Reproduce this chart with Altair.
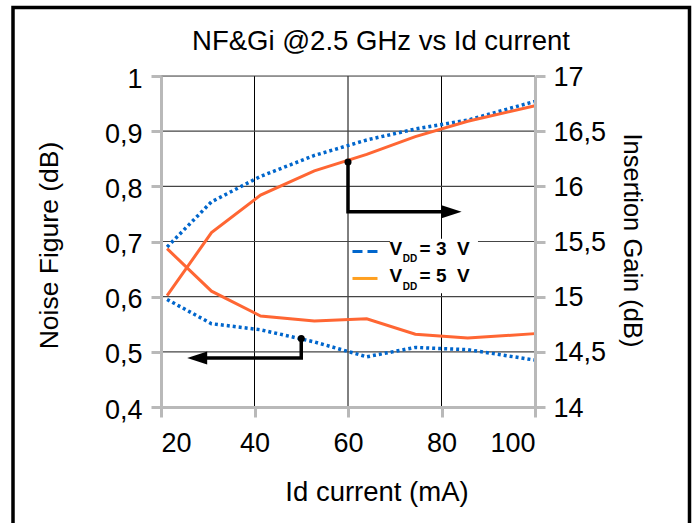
import altair as alt
import pandas as pd

# ---------------- data ----------------
current_ma = [21.3, 30.8, 41.3, 52.8, 64.0, 74.4, 85.6, 100.0]
nf_vdd3 = [0.595, 0.551, 0.540, 0.518, 0.491, 0.508, 0.504, 0.485]
nf_vdd5 = [0.687, 0.610, 0.565, 0.556, 0.560, 0.532, 0.525, 0.533]
gain_vdd3 = [15.45, 15.86, 16.09, 16.28, 16.42, 16.52, 16.60, 16.77]
gain_vdd5 = [15.01, 15.58, 15.92, 16.14, 16.29, 16.45, 16.59, 16.73]

x_ticks = [20, 40, 60, 80, 100]
nf_ticks = [0.4, 0.5, 0.6, 0.7, 0.8, 0.9, 1.0]
gain_ticks = [14, 14.5, 15, 15.5, 16, 16.5, 17]

legend_labels = ["= 3\u00a0\u00a0V", "= 5\u00a0\u00a0V"]

# annotation arrows (data coordinates)
arrow_nf_x = [50.0, 50.0, 27.7]
arrow_nf_y = [0.524, 0.489, 0.489]
arrow_nf_tip = [25.6]
arrow_gain_x = [60.0, 60.0, 82.2]
arrow_gain_y = [16.22, 15.77, 15.77]
arrow_gain_tip = [84.3]

# legend placement (data coordinates, NF scale)
leg_box_x = [69.0, 87.8]
leg_box_y = [0.705, 0.606]
leg_swatch_x = [60.96, 66.31]
leg_row_y = [0.682, 0.633]
leg_text_base = [0.6755, 0.627]
leg_sub_base = [0.6623, 0.612]
leg_v_x = 68.9
leg_sub_x = 71.7
leg_eq_x = 75.3

# ---------------- styling ----------------
FONT = "Liberation Sans"
GRAY = "#b9b9b9"
BLUE = "#0066cc"
ORANGE = "#ff6633"
LEG_ORANGE = "#ffa020"
W, H = 374, 331

common_axis = dict(
    domainColor=GRAY, domainWidth=3, tickColor=GRAY, tickWidth=3, tickSize=10,
    labelFont=FONT, labelFontSize=27, labelColor="black",
    titleFont=FONT, titleFontWeight="normal", titleColor="black",
    grid=False, zindex=1,
)

x_axis = alt.Axis(values=x_ticks, title="Id current (mA)", labelPadding=13,
                  titleX=215.5, titleY=93, titleAlign="center", titleBaseline="alphabetic",
                  titleAngle=0, titleFontSize=27.5, **common_axis)
yl_axis = alt.Axis(values=nf_ticks, title="Noise Figure (dB)", labelPadding=9, labelOffset=3,
                   labelExpr="replace(format(datum.value, '~g'), '.', ',')",
                   titleX=-104, titleY=169, titleAngle=270, titleAlign="center",
                   titleBaseline="alphabetic", titleFontSize=26.5, orient="left", **common_axis)
yr_axis = alt.Axis(values=gain_ticks, title="Insertion Gain (dB)", labelPadding=8, labelOffset=1,
                   labelExpr="replace(format(datum.value, '~g'), '.', ',')",
                   titleX=88, titleY=164, titleAngle=90, titleAlign="center",
                   titleBaseline="alphabetic", titleFontSize=25.5, orient="right", **common_axis)

x_scale = alt.Scale(domain=[20, 100], nice=False, zero=False)
yl_scale = alt.Scale(domain=[0.4, 1.0], nice=False, zero=False)
yr_scale = alt.Scale(domain=[14, 17], nice=False, zero=False)


def X(f):
    return alt.X(f, type="quantitative", scale=x_scale, axis=x_axis)


def YL(f):
    return alt.Y(f, type="quantitative", scale=yl_scale, axis=yl_axis)


def YR(f):
    return alt.Y(f, type="quantitative", scale=yr_scale, axis=yr_axis)


series = pd.DataFrame({"x": current_ma, "nf3": nf_vdd3, "nf5": nf_vdd5,
                       "g3": gain_vdd3, "g5": gain_vdd5})

# ---------------- left (NF) layers ----------------
frame = alt.Chart(pd.DataFrame({"a": [0]})).mark_rect(
    fill="transparent", stroke="black", strokeWidth=3.5
).encode(x=alt.value(-148), x2=alt.value(528.5), y=alt.value(-68.5), y2=alt.value(480))

vgrid = alt.Chart(pd.DataFrame({"x": x_ticks[1:-1]})).mark_rule(
    color="black", strokeWidth=1).encode(x=X("x"))
hgrid = alt.Chart(pd.DataFrame({"y": nf_ticks[1:]})).mark_rule(
    color="#454545", strokeWidth=1.2).encode(y=YL("y"))

leg_box = alt.Chart(pd.DataFrame({"x": [leg_box_x[0]], "x2": [leg_box_x[1]],
                                  "y": [leg_box_y[0]], "y2": [leg_box_y[1]]})).mark_rect(
    fill="white").encode(x=X("x"), x2="x2", y=YL("y"), y2="y2")

nf3_line = alt.Chart(series).mark_line(color=BLUE, strokeWidth=3.5, strokeDash=[3, 3],
                                       strokeCap="butt").encode(x=X("x"), y=YL("nf3"))
nf5_line = alt.Chart(series).mark_line(color=ORANGE, strokeWidth=3).encode(
    x=X("x"), y=YL("nf5"))

arrow_nf_df = pd.DataFrame({"x": arrow_nf_x, "y": arrow_nf_y, "o": [0, 1, 2]})
arrow_nf = alt.Chart(arrow_nf_df).mark_line(color="black", strokeWidth=3.5,
                                            strokeJoin="miter").encode(
    x=X("x"), y=YL("y"), order="o:Q")
arrow_nf_dot = alt.Chart(arrow_nf_df.iloc[[0]]).mark_point(
    shape="circle", size=50, filled=True, color="black", opacity=1).encode(x=X("x"), y=YL("y"))
arrow_nf_head = alt.Chart(pd.DataFrame({"x": arrow_nf_tip, "y": [arrow_nf_y[-1]]})).mark_point(
    shape="M0,0L2,-0.65L2,0.65Z", size=400, filled=True, color="black", opacity=1,
    strokeWidth=0).encode(x=X("x"), y=YL("y"))

sw_blue = alt.Chart(pd.DataFrame({"x": leg_swatch_x, "y": [leg_row_y[0]] * 2})).mark_line(
    color=BLUE, strokeWidth=3, strokeDash=[10, 5], strokeCap="butt").encode(x=X("x"), y=YL("y"))
sw_orange = alt.Chart(pd.DataFrame({"x": leg_swatch_x, "y": [leg_row_y[1]] * 2})).mark_line(
    color=LEG_ORANGE, strokeWidth=3).encode(x=X("x"), y=YL("y"))

leg_v = alt.Chart(pd.DataFrame({"x": [leg_v_x] * 2, "y": leg_text_base, "t": ["V", "V"]})).mark_text(
    align="left", baseline="alphabetic", font=FONT, fontWeight="bold", fontSize=19,
    color="black").encode(x=X("x"), y=YL("y"), text="t")
leg_sub = alt.Chart(pd.DataFrame({"x": [leg_sub_x] * 2, "y": leg_sub_base, "t": ["DD", "DD"]})).mark_text(
    align="left", baseline="alphabetic", font=FONT, fontWeight="bold", fontSize=10,
    color="black").encode(x=X("x"), y=YL("y"), text="t")
leg_eq = alt.Chart(pd.DataFrame({"x": [leg_eq_x] * 2, "y": leg_text_base, "t": legend_labels})).mark_text(
    align="left", baseline="alphabetic", font=FONT, fontWeight="bold", fontSize=19,
    color="black").encode(x=X("x"), y=YL("y"), text="t")

left = alt.layer(frame, vgrid, hgrid, leg_box, nf3_line, nf5_line,
                 arrow_nf, arrow_nf_dot, arrow_nf_head,
                 sw_blue, sw_orange, leg_v, leg_sub, leg_eq)

# ---------------- right (gain) layers ----------------
g3_line = alt.Chart(series).mark_line(color=BLUE, strokeWidth=3.5, strokeDash=[3, 3],
                                      strokeCap="butt").encode(x=X("x"), y=YR("g3"))
g5_line = alt.Chart(series).mark_line(color=ORANGE, strokeWidth=3).encode(
    x=X("x"), y=YR("g5"))

arrow_g_df = pd.DataFrame({"x": arrow_gain_x, "y": arrow_gain_y, "o": [0, 1, 2]})
arrow_g = alt.Chart(arrow_g_df).mark_line(color="black", strokeWidth=3.5,
                                          strokeJoin="miter").encode(
    x=X("x"), y=YR("y"), order="o:Q")
arrow_g_dot = alt.Chart(arrow_g_df.iloc[[0]]).mark_point(
    shape="circle", size=50, filled=True, color="black", opacity=1).encode(x=X("x"), y=YR("y"))
arrow_g_head = alt.Chart(pd.DataFrame({"x": arrow_gain_tip, "y": [arrow_gain_y[-1]]})).mark_point(
    shape="M0,0L-2,-0.65L-2,0.65Z", size=400, filled=True, color="black", opacity=1,
    strokeWidth=0).encode(x=X("x"), y=YR("y"))

right = alt.layer(g3_line, g5_line, arrow_g, arrow_g_dot, arrow_g_head)

chart = alt.layer(left, right).resolve_scale(y="independent").properties(
    width=W, height=H,
    padding={"left": 161, "top": 76, "right": 161, "bottom": 116},
    autosize=alt.AutoSizeParams(type="none"),
    title=alt.TitleParams(text="NF&Gi @2.5 GHz vs Id current", font=FONT, fontSize=27.5,
                          fontWeight="normal", color="black", anchor="middle",
                          dx=33, baseline="alphabetic", offset=-72),
).configure_view(stroke="transparent").configure(background="white")

chart.save("out.html", embed_options={"renderer": "svg", "actions": False})
